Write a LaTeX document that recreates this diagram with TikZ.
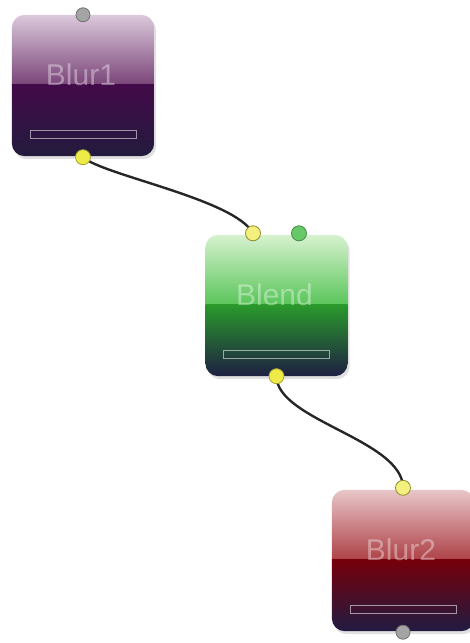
\documentclass[tikz,border=0pt]{standalone}
\usepackage{fontspec}
\setmainfont{Liberation Sans}
\usetikzlibrary{calc}
\usetikzlibrary{backgrounds}

\definecolor{purpleTop}{HTML}{DCC9DC}
\definecolor{purpleMid}{HTML}{7A4579}
\definecolor{purpleLow}{HTML}{430A49}
\definecolor{purpleBot}{HTML}{231B3D}
\definecolor{greenTop}{HTML}{D6F2CE}
\definecolor{greenMid}{HTML}{5AC55A}
\definecolor{greenLow}{HTML}{2A9A2C}
\definecolor{greenBot}{HTML}{1E1F42}
\definecolor{redTop}{HTML}{E8C6C8}
\definecolor{redMid}{HTML}{AE4248}
\definecolor{redLow}{HTML}{76000A}
\definecolor{redBot}{HTML}{211B42}
\definecolor{portYellow}{HTML}{EEEA48}
\definecolor{portGreen}{HTML}{66C866}
\definecolor{portGray}{HTML}{A4A4A4}

\begin{document}
\begin{tikzpicture}[x=1pt,y=-1pt,
	block/.style={minimum width=142pt,minimum height=141pt,inner sep=0pt},
	blocklabel/.style={text=white,text opacity=0.38,font=\fontsize{30}{36}\selectfont,inner sep=0pt},
	blockbar/.style={draw=white,draw opacity=0.55,line width=0.6pt,minimum width=106pt,minimum height=8pt,inner sep=0pt},
	port/.style={circle,inner sep=0pt,minimum size=15pt,line width=0.8pt},
	wire/.style={draw=black!85,line width=2.4pt}]
	\useasboundingbox (0,0) rectangle (469,643);

	\newcommand\drawBlock[4]{
		\node[block] (#1) at (#2) {};
		\fill[black,opacity=0.12,rounded corners=13pt] ($(#1.north west)+(2,3)$) rectangle ($(#1.south east)+(2,3)$);
		\begin{scope}
			\clip[rounded corners=13pt] (#1.north west) rectangle (#1.south east);
			\shade[top color=#4Top,bottom color=#4Mid] (#1.north west) rectangle ($(#1.east)+(0,-1)$);
			\shade[top color=#4Low,bottom color=#4Bot] ($(#1.west)+(0,-1)$) rectangle (#1.south east);
		\end{scope}
		\node[blocklabel] (#1-label) at ($(#1.center)+(-2,-11)$) {#3};
		\node[blockbar] (#1-bar) at ($(#1.center)+(0,48.5)$) {};
	}

	\drawBlock{blur1}{83,85.5}{Blur1}{purple}
	\drawBlock{blend}{276.5,305.5}{Blend}{green}
	\drawBlock{blur2}{403,560.5}{Blur2}{red}

	\node[port,minimum size=14pt,fill=portGray,draw=portGray!70!black] (blur1-in) at (blur1.north) {};
	\node[port,fill=portYellow,draw=portYellow!70!black] (blur1-out) at ($(blur1.south)+(0,1)$) {};
	\node[port,fill=portYellow!70!white,draw=portYellow!60!black] (blend-in1) at ($(blend.north)+(-23.5,-1.5)$) {};
	\node[port,fill=portGreen,draw=portGreen!70!black] (blend-in2) at ($(blend.north)+(22.5,-1.5)$) {};
	\node[port,fill=portYellow,draw=portYellow!70!black] (blend-out) at (blend.south) {};
	\node[port,fill=portYellow!70!white,draw=portYellow!60!black] (blur2-in) at ($(blur2.north)+(0,-2)$) {};
	\node[port,minimum size=14pt,fill=portGray,draw=portGray!70!black] (blur2-out) at ($(blur2.south)+(0,1)$) {};

	\begin{pgfonlayer}{background}
		\draw[wire] (blur1-out.center) .. controls +(20,18) and +(-18,-34) .. (blend-in1.center);
		\draw[wire] (blend-out.center) .. controls +(0,44) and +(0,-48) .. (blur2-in.center);
	\end{pgfonlayer}
\end{tikzpicture}
\end{document}
